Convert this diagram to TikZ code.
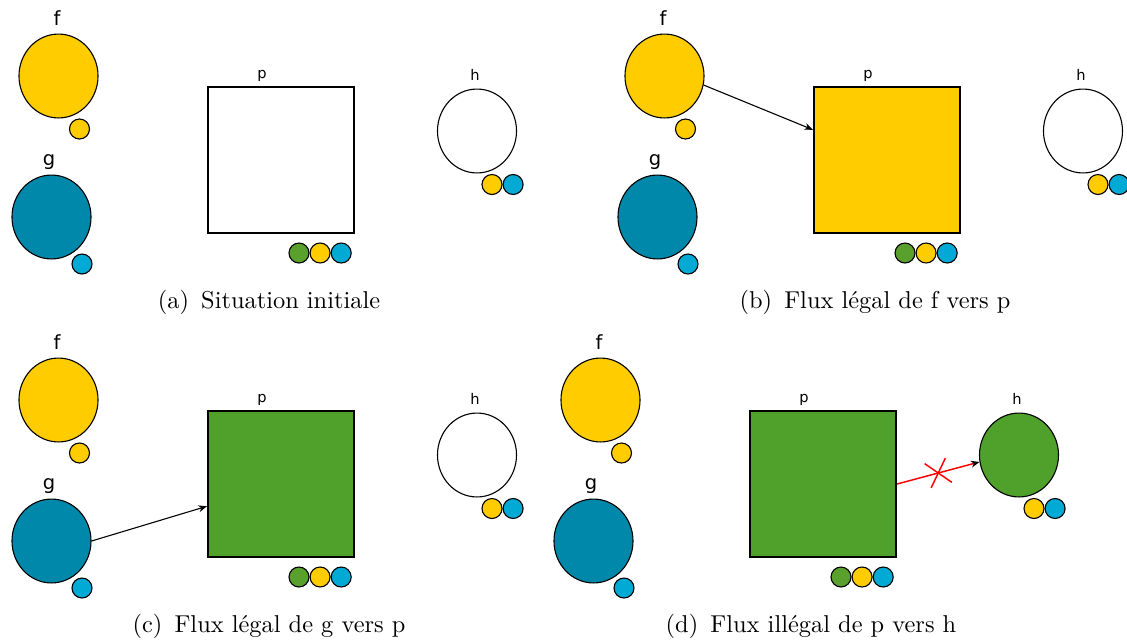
\documentclass[tikz,border=0pt]{standalone}
\usepackage{fontspec}
\usepackage{xcolor}
\usepackage{tikz}
\usetikzlibrary{arrows.meta,positioning,shapes.geometric,shapes.misc}

\newfontfamily\lblfont{DejaVu Sans}

\definecolor{fyellow}{HTML}{FFCC00}
\definecolor{gteal}{HTML}{0088AA}
\definecolor{gblue}{HTML}{00AAD4}
\definecolor{pgreen}{HTML}{50A02C}
\definecolor{tgreen}{HTML}{5AA02C}

\tikzset{
  proc/.style={ellipse, draw, line width=0.45pt, minimum width=32.4pt, minimum height=34.4pt, inner sep=0pt},
  cont/.style={rectangle, draw, line width=0.8pt, minimum size=59.9pt, inner sep=0pt},
  tok/.style={circle, draw, line width=0.45pt, minimum size=8.2pt, inner sep=0pt},
  biglbl/.style={anchor=base, inner sep=0pt, font=\lblfont\fontsize{8}{9}\selectfont},
  smalllbl/.style={anchor=base, inner sep=0pt, font=\lblfont\fontsize{6}{7}\selectfont},
  subcap/.style={inner sep=0pt},
  flux/.style={line width=0.45pt, -{Stealth[length=3.5pt, width=2.8pt]}},
  badflux/.style={red, line width=0.6pt, -{Stealth[black, length=3.5pt, width=2.8pt]}},
  crossmark/.style={cross out, draw=red, line width=0.6pt, minimum width=8.2pt, minimum height=9.7pt, inner sep=0pt}
}

% #1 remplissage de p, #2 remplissage de h, #3 legende
\newcommand{\scene}[3]{%
  % f et g
  \node[proc, fill=fyellow] (f) at (58.5,76) {};
  \node[tok, fill=fyellow] (ft) at (79.5,129) {};
  \node[biglbl] (fl) at (57,25) {f};
  \node[proc, fill=gteal] (g) at (51.5,217) {};
  \node[tok, fill=gblue] (gt) at (82,264) {};
  \node[biglbl] (gl) at (49,165) {g};
  % p
  \node[cont, fill=#1] (p) at (281,160) {};
  \node[smalllbl] (pl) at (262,78) {p};
  \node[tok, fill=tgreen] (pt1) at (299,253) {};
  \node[tok, fill=fyellow, right=0pt of pt1] (pt2) {};
  \node[tok, fill=gblue, right=0pt of pt2] (pt3) {};
  % h
  \node[proc, fill=#2] (h) at (477,131) {};
  \node[smalllbl] (hl) at (475,80) {h};
  \node[tok, fill=fyellow] (ht1) at (492,184.5) {};
  \node[tok, fill=gblue, right=0pt of ht1] (ht2) {};
  % legende
  \node[subcap] (cap) at (269,302) {#3};
}

\begin{document}
\begin{tikzpicture}[x=0.41pt, y=-0.41pt]
  \useasboundingbox (0,0) rectangle (1127,643);

  \begin{scope}[name prefix=a-]
    \scene{white}{white}{(a)\enspace Situation initiale}
  \end{scope}
  \begin{scope}[shift={(606,0)}, name prefix=b-]
    \scene{fyellow}{white}{(b)\enspace Flux légal de f vers p}
  \end{scope}
  \begin{scope}[shift={(0,324)}, name prefix=c-]
    \scene{pgreen}{white}{(c)\enspace Flux légal de g vers p}
  \end{scope}
  \begin{scope}[shift={(542,324)}, name prefix=d-]
    \scene{pgreen}{pgreen}{(d)\enspace Flux illégal de p vers h}
  \end{scope}

  % flux
  \draw[flux] (b-f.-13) -- (b-p);
  \draw[flux] (c-g.east) -- (c-p);
  \draw[badflux] (d-p.east) -- (d-h.190) node[crossmark, pos=0.5, sloped] (d-x) {};
\end{tikzpicture}
\end{document}
